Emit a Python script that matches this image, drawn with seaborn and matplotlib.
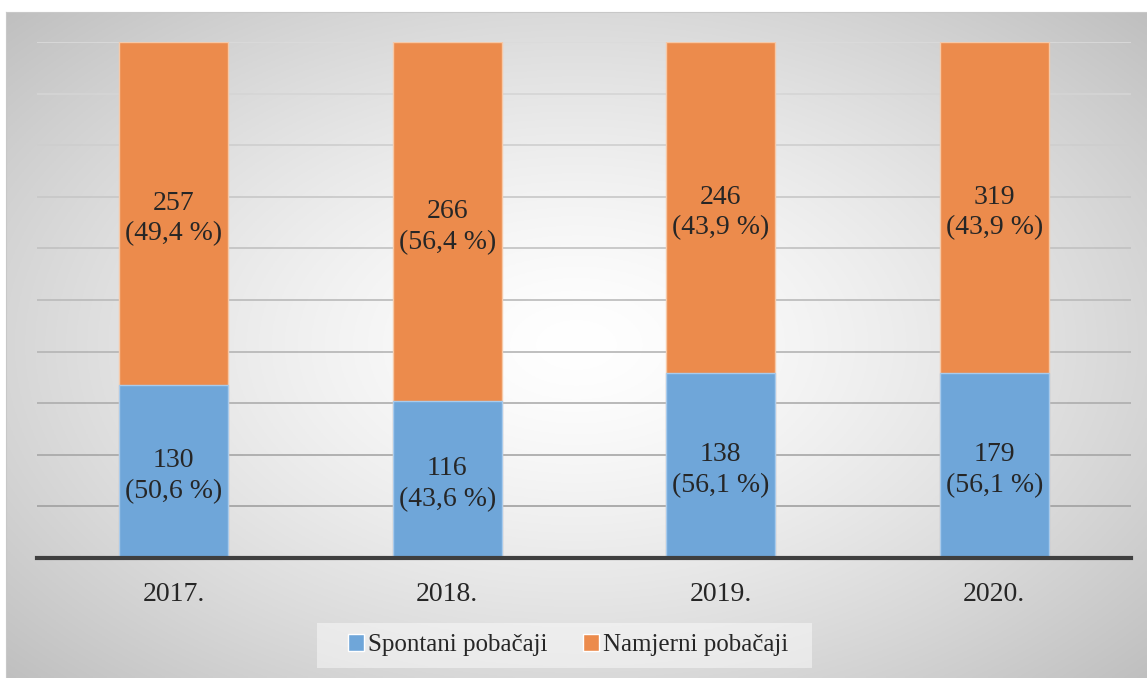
import numpy as np
import pandas as pd
import matplotlib
matplotlib.use('Agg')
import matplotlib.pyplot as plt
import seaborn as sns
from matplotlib.patches import Patch, Rectangle

# Podaci
godine = ['2017.', '2018.', '2019.', '2020.']
spontani = [130, 116, 138, 179]
namjerni = [257, 266, 246, 319]
spontani_pct = ['50,6 %', '43,6 %', '56,1 %', '56,1 %']
namjerni_pct = ['49,4 %', '56,4 %', '43,9 %', '43,9 %']

ukupno = [s + n for s, n in zip(spontani, namjerni)]
df = pd.DataFrame({
    'godina': godine,
    'spontani': [s / u * 100 for s, u in zip(spontani, ukupno)],
    'ukupno': [100.0] * len(godine),
})

sns.set_style("white")
plt.rcParams['font.family'] = ['Liberation Serif', 'DejaVu Serif']

plava = '#6fa6d9'
narancasta = '#ec8b4c'

fig = plt.figure(figsize=(11.47, 6.78), dpi=100)

# pozadina s radijalnim prijelazom
bg = fig.add_axes([6 / 1147, 0, 1 - 6 / 1147, 1 - 12 / 678])
yy, xx = np.mgrid[-1:1:300j, -1:1:500j]
r = np.sqrt((xx * 0.9) ** 2 + (yy * 0.85) ** 2) / np.sqrt(0.81 + 0.7225)
vals = 1.0 - 0.25 * r ** 1.4
bg.imshow(np.dstack([vals] * 3), aspect='auto', extent=[0, 1, 0, 1])
bg.set_xticks([])
bg.set_yticks([])
for s in bg.spines.values():
    s.set_visible(False)
bg.spines['top'].set_visible(True)
bg.spines['left'].set_visible(True)
bg.spines['top'].set_color('#c8c8c8')
bg.spines['left'].set_color('#c8c8c8')

ax = fig.add_axes([37 / 1147, 1 - 558 / 678, (1131 - 37) / 1147, (558 - 42) / 678])
ax.set_facecolor('none')

sns.barplot(data=df, x='godina', y='ukupno', color=narancasta, width=0.4,
            edgecolor='#f6c9a8', linewidth=1, saturation=1, ax=ax, zorder=3)
sns.barplot(data=df, x='godina', y='spontani', color=plava, width=0.4,
            edgecolor='#a9cbec', linewidth=1, saturation=1, ax=ax, zorder=4)

ax.set_ylim(0, 100)
ax.set_xlim(-0.5, 3.5)
ax.set_yticks(np.arange(0, 101, 10))
ax.set_yticklabels([])
ax.grid(axis='y', linewidth=1.2, zorder=0)
ax.set_axisbelow(True)
n = len(ax.get_ygridlines())
for i, gl in enumerate(ax.get_ygridlines()):
    c = 0.60 + 0.26 * i / (n - 1)
    gl.set_color((c, c, c))
ax.tick_params(axis='both', length=0)
ax.tick_params(axis='x', pad=17, labelsize=20)
ax.set_xlabel('')
ax.set_ylabel('')
for s in ['top', 'right', 'left']:
    ax.spines[s].set_visible(False)
ax.spines['bottom'].set_color('#3f3f3f')
ax.spines['bottom'].set_linewidth(3)
ax.spines['bottom'].set_zorder(6)

for i in range(len(godine)):
    donji = df['spontani'][i]
    ax.text(i, donji / 2 - 0.9, f'{spontani[i]}\n({spontani_pct[i]})', ha='center', va='center',
            fontsize=20, linespacing=1.3, zorder=7)
    ax.text(i, donji + (100 - donji) / 2 - 1.0, f'{namjerni[i]}\n({namjerni_pct[i]})', ha='center',
            va='center', fontsize=20, linespacing=1.3, zorder=7)

# okvir legende
fig.patches.append(Rectangle((317 / 1147, 1 - 668 / 678), 495 / 1147, 45 / 678,
                             transform=fig.transFigure, facecolor='white', alpha=0.45,
                             edgecolor='none', zorder=1))
handles = [Patch(facecolor=plava, label='Spontani pobačaji'),
           Patch(facecolor=narancasta, label='Namjerni pobačaji')]
leg = fig.legend(handles=handles, loc='center', bbox_to_anchor=(568 / 1147, 1 - 645 / 678),
                 ncol=2, frameon=False, fontsize=18, handlelength=0.65, handleheight=0.65,
                 handletextpad=0.15, columnspacing=1.4, borderpad=0.3)

fig.savefig('out.png', dpi=100)
